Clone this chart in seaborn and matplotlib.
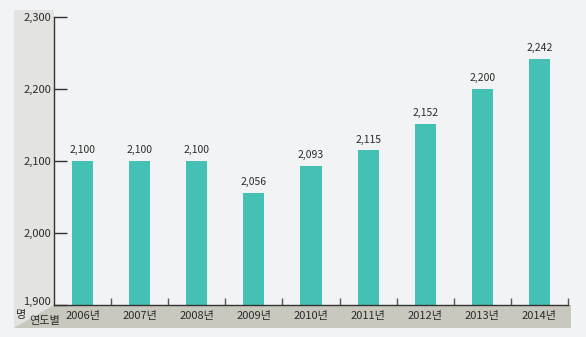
import matplotlib
matplotlib.use("Agg")
import matplotlib.pyplot as plt
import matplotlib.transforms as mtransforms
from matplotlib.patches import Rectangle, Polygon
import seaborn as sns
import pandas as pd

years = ["2006년", "2007년", "2008년", "2009년", "2010년", "2011년", "2012년", "2013년", "2014년"]
counts = [2100, 2100, 2100, 2056, 2093, 2115, 2152, 2200, 2242]
yticks = [1900, 2000, 2100, 2200, 2300]

W, H = 586, 337
BG = "#f2f3f5"
BAND_LEFT = "#e3e3e2"
BAND_BOTTOM = "#c8c8bf"
BAR = "#45c0b5"
TXT = "#2b2b2b"

sns.set_theme(style="white")
plt.rcParams["font.family"] = ["Noto Sans CJK KR", "DejaVu Sans"]

fig = plt.figure(figsize=(W / 100, H / 100), dpi=100, facecolor=BG)


def px(x, y):
    return x / W, 1 - y / H


# Background bands behind the axes
x0, y0 = px(14, 328)
x1, y1 = px(54, 10)
fig.patches.append(Rectangle((x0, y0), x1 - x0, y1 - y0, transform=fig.transFigure,
                             facecolor=BAND_LEFT, edgecolor="none", zorder=-5))
bx0, by0 = px(54, 328)
bx1, by1 = px(571, 305)
fig.patches.append(Rectangle((bx0, by0), bx1 - bx0, by1 - by0, transform=fig.transFigure,
                             facecolor=BAND_BOTTOM, edgecolor="none", zorder=-5))
fig.patches.append(Polygon([px(14, 328), px(54, 305), px(54, 328)], closed=True,
                           transform=fig.transFigure, facecolor=BAND_BOTTOM,
                           edgecolor="none", zorder=-5))

left, top = px(54, 17)
right, bottom = px(568, 305)
ax = fig.add_axes([left, bottom, right - left, top - bottom])
ax.set_facecolor("none")
ax.set_zorder(1)

df = pd.DataFrame({"year": years, "count": counts})
sns.barplot(data=df, x="year", y="count", color=BAR, width=0.37, saturation=1,
            linewidth=0, ax=ax, zorder=2)

ax.set_ylim(yticks[0], yticks[-1])
ax.set_xlim(-0.5, len(years) - 0.5)
ax.set_yticks(yticks)
ax.set_yticklabels([f"{v:,}" for v in yticks], fontsize=8, color=TXT)
ax.set_xticks(range(len(years)))
ax.set_xticklabels(years, fontsize=8, color=TXT)
ax.set_xticks([i + 0.5 for i in range(len(years))], minor=True)
ax.tick_params(axis="x", which="major", bottom=True, length=0, pad=4)
ax.tick_params(axis="x", which="minor", bottom=True, direction="in", length=5,
               width=1, color="#555555")
ax.tick_params(axis="y", which="major", left=True, direction="in", length=9.5,
               width=1, color="#333333", pad=2)
ax.set_xlabel("")
ax.set_ylabel("")

# lift the lowest y label a little so it clears the unit text below
lowest = ax.get_yticklabels()[0]
lowest.set_transform(lowest.get_transform() +
                     mtransforms.ScaledTranslation(0, 4 / 100, fig.dpi_scale_trans))

for s in ["top", "right"]:
    ax.spines[s].set_visible(False)
for s in ["left", "bottom"]:
    ax.spines[s].set_visible(True)
    ax.spines[s].set_color("#333333")
    ax.spines[s].set_linewidth(1)
    ax.spines[s].set_zorder(5)

for i, v in enumerate(counts):
    ax.annotate(f"{v:,}", (i, v), xytext=(0, 4), textcoords="offset points",
                ha="center", va="bottom", fontsize=7.5, color=TXT)

fig.text(*px(21, 315), "명", fontsize=8, color=TXT, ha="center", va="center")
fig.text(*px(45, 321), "연도별", fontsize=8, color=TXT, ha="center", va="center")

fig.savefig("out.png", dpi=100, facecolor=BG)
